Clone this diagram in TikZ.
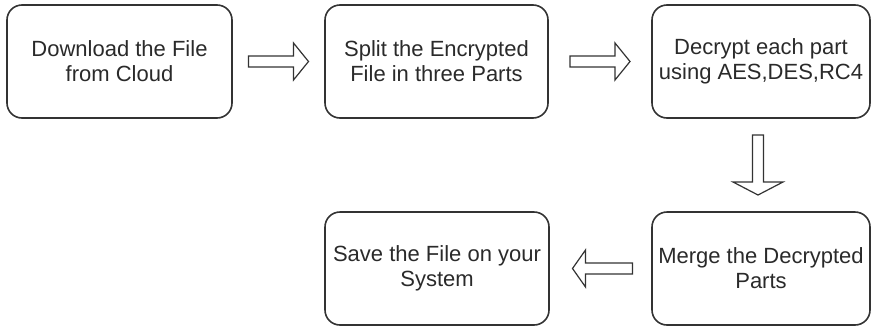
\documentclass[tikz,border=0pt]{standalone}
\usepackage{fontspec}
\setmainfont{Liberation Sans}
\usetikzlibrary{calc}

\definecolor{edge}{HTML}{333333}
\definecolor{ink}{HTML}{2A2A2A}

\tikzset{
  stepbox/.style={draw=edge, line width=1.6pt, rounded corners=15pt,
    minimum height=113pt, inner sep=2pt, align=center, text=ink,
    font=\fontsize{22}{25}\selectfont},
  arrowline/.style={draw=edge, fill=white, line width=1.2pt, line join=miter},
  % hollow block arrow, 60 long, centred on the pic origin, pointing to +x
  % #1 = half height of the head, #2 = length of the head
  pics/blockarr/.style 2 args={code={
    \path[arrowline] (-30,-5.5) -- ({30-#2},-5.5) -- ({30-#2},-#1) -- (30,0)
      -- ({30-#2},#1) -- ({30-#2},5.5) -- (-30,5.5) -- cycle;
  }}
}

\begin{document}
\begin{tikzpicture}[x=1pt, y=-1pt]
  \useasboundingbox (0,0) rectangle (872,327);

  % process steps
  \node[stepbox, minimum width=225pt] (b1) at (119.5,61.5) {Download the File\\from Cloud};
  \node[stepbox, minimum width=223pt] (b2) at (436.5,61.5) {Split the Encrypted\\File in three Parts};
  \node[stepbox, minimum width=218pt] (b3) at (761,61.5) {Decrypt each part\\using AES,DES,RC4};
  \node[stepbox, minimum width=218pt] (b4) at (761,268.5) {Merge the Decrypted\\Parts};
  \node[stepbox, minimum width=224pt] (b5) at (437,268.5) {Save the File on your\\System};

  % block arrows between the steps
  \pic at ($(b1.east)!0.5!(b2.west)$) {blockarr={18.5}{15}};
  \pic at ($(b2.east)!0.5!(b3.west)$) {blockarr={18.5}{15}};
  \pic[rotate=-90] at ($(b3.south)!0.5!(b4.north)+(-3,0)$) {blockarr={25}{13}};
  \pic[rotate=180] at ($(b4.west)!0.5!(b5.east)+(2,0)$) {blockarr={18.5}{13}};
\end{tikzpicture}
\end{document}
